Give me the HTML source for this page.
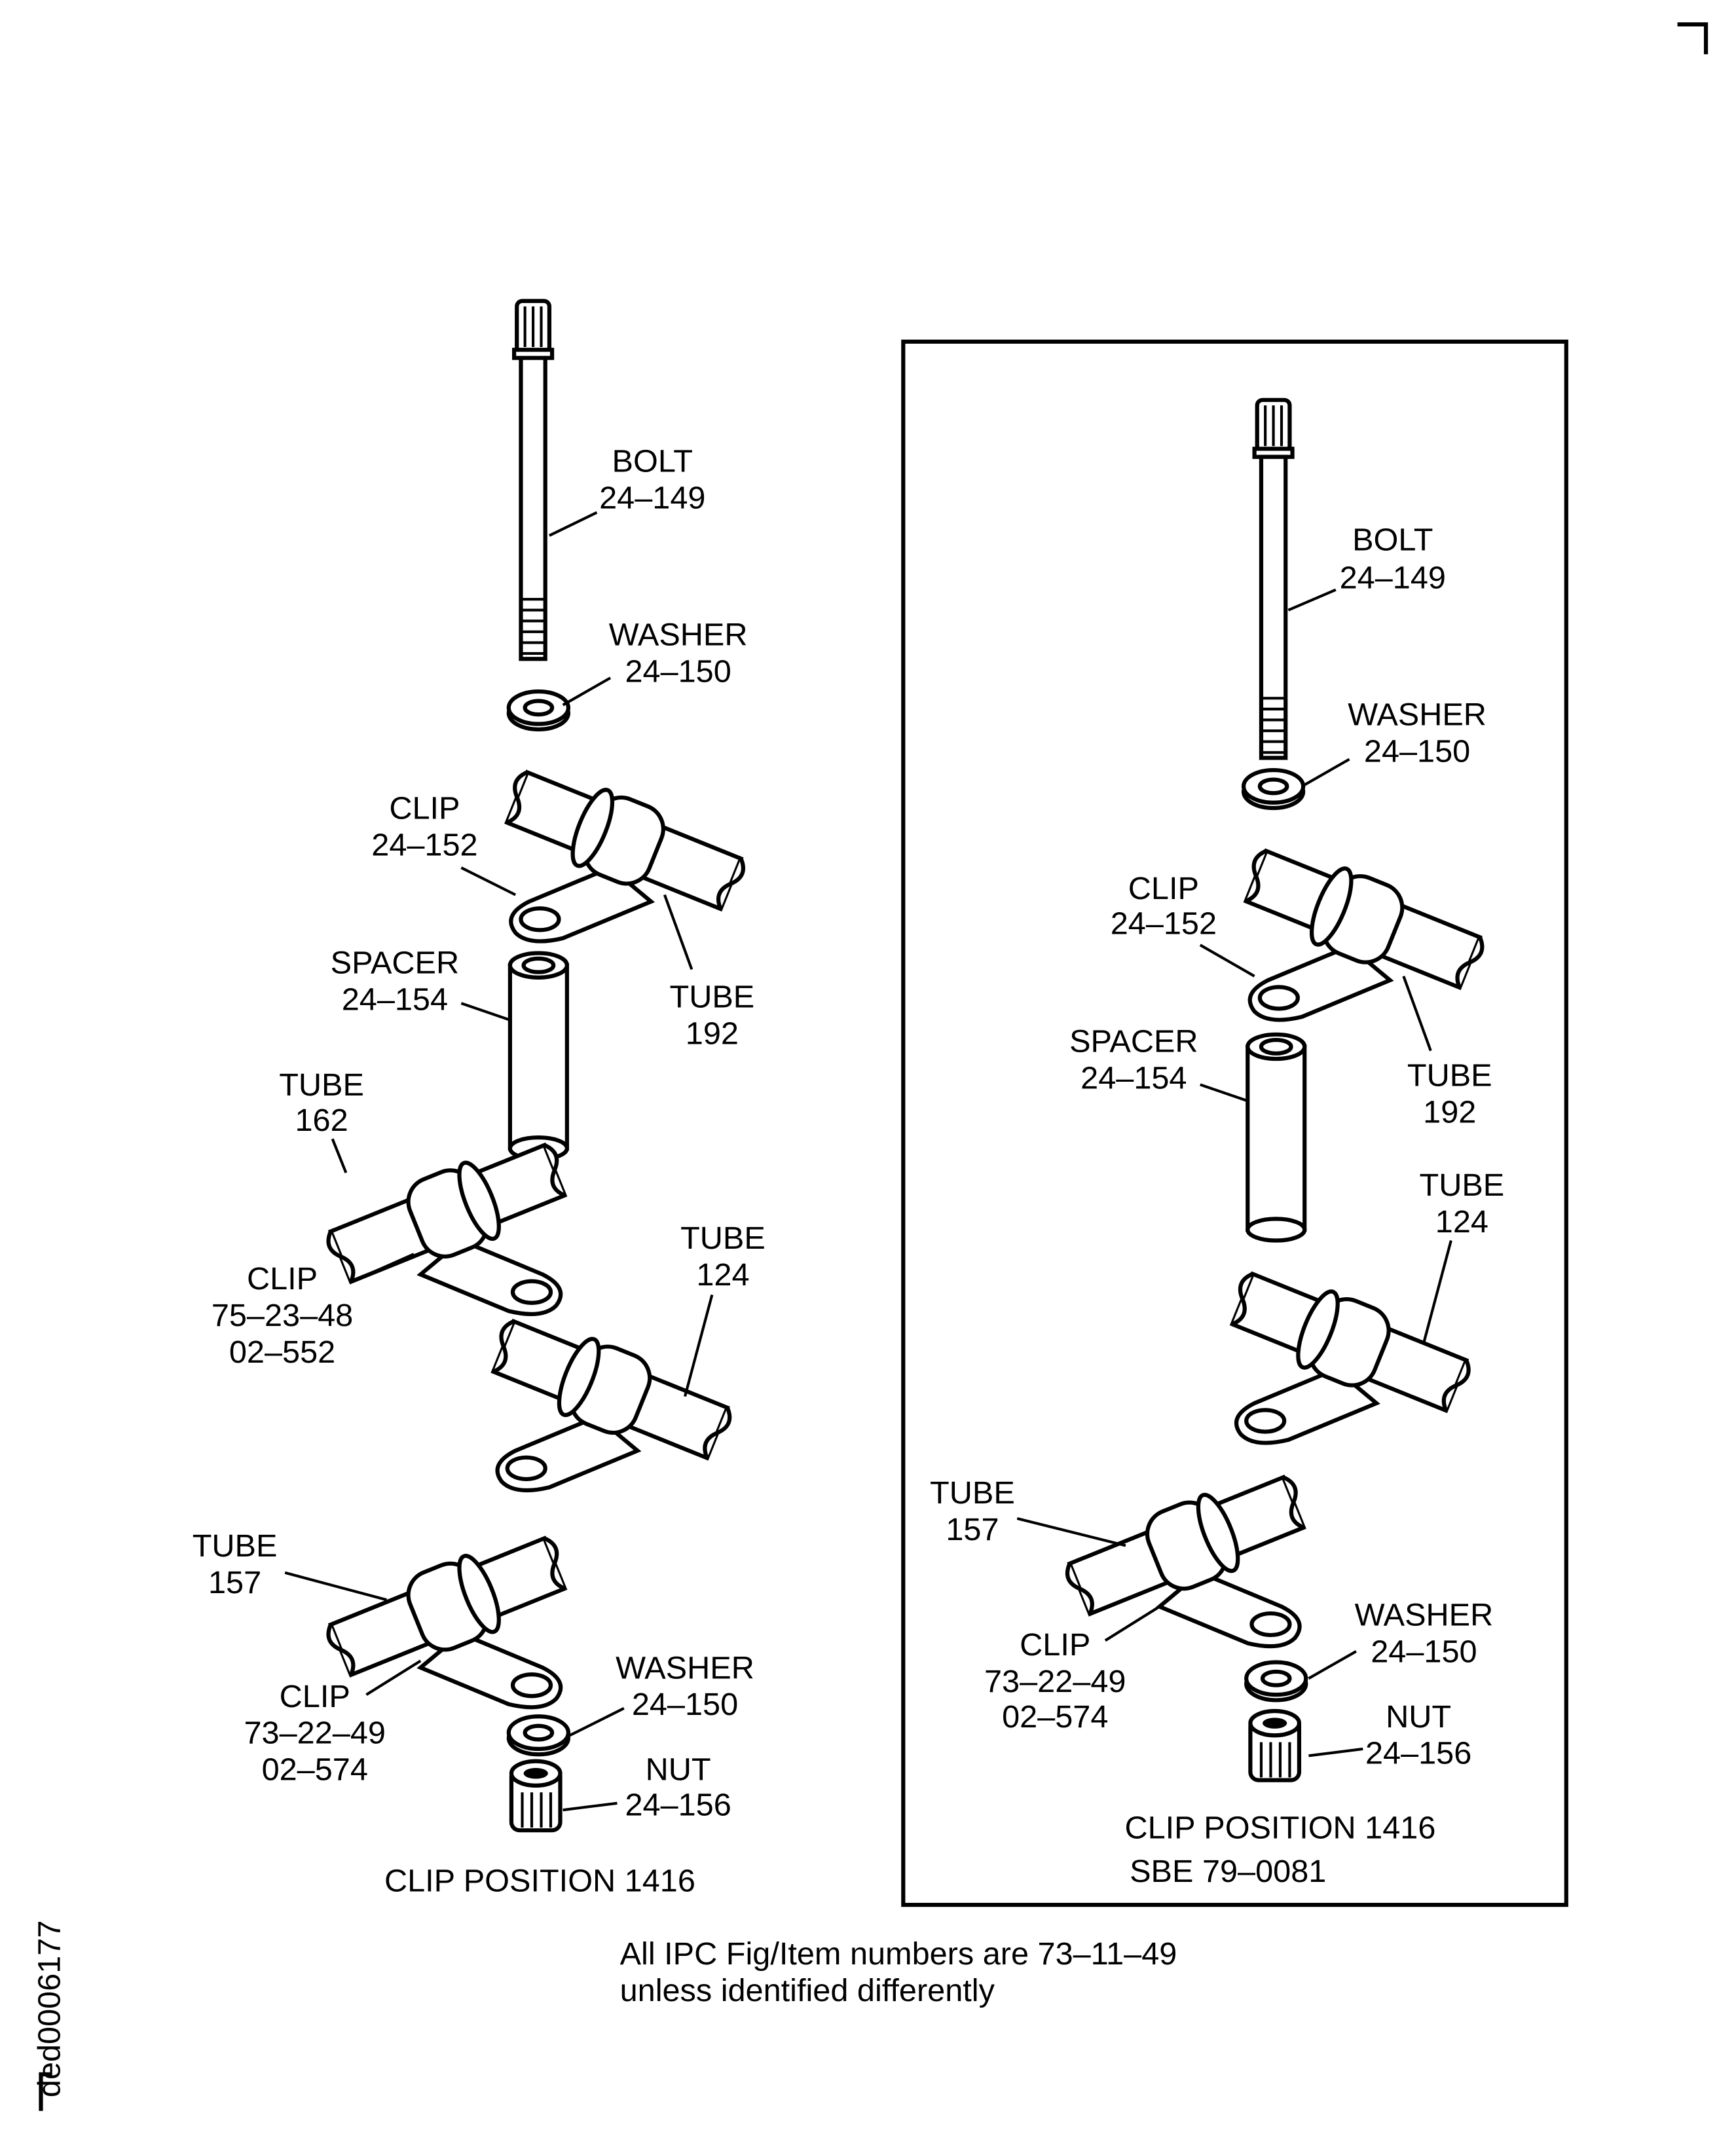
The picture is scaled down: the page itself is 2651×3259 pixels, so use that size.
<!DOCTYPE html>
<html><head><meta charset="utf-8"><style>
html,body{margin:0;padding:0;background:#fff}
svg{display:block}
text{font-family:"Liberation Sans",Arial,sans-serif;font-size:23.5px;fill:#000}
</style></head><body>
<svg width="2651" height="3259" viewBox="0 0 1280 1574" xmlns="http://www.w3.org/2000/svg">
<defs>
<g id="tubeclip">
 <path d="M-10,20 L-70,45 Q-90,55 -80,68 Q-70,78 -45,72 L20,45 Z" fill="#fff" stroke="#000" stroke-width="3"/>
 <ellipse cx="-62" cy="58" rx="14" ry="8" fill="#fff" stroke="#000" stroke-width="3"/>
 <g transform="rotate(22)">
  <rect x="-85" y="-20" width="170" height="40" fill="#fff" stroke="#000" stroke-width="3"/>
  <path d="M-85,-20 q-10,10 0,20 q10,10 0,20" fill="#fff" stroke="#000" stroke-width="3"/>
  <path d="M85,-20 q10,10 0,20 q-10,10 0,20" fill="#fff" stroke="#000" stroke-width="3"/>
  <rect x="-25" y="-30" width="50" height="60" rx="18" fill="#fff" stroke="#000" stroke-width="3"/>
  <ellipse cx="-25" cy="0" rx="10" ry="30" fill="#fff" stroke="#000" stroke-width="3"/>
 </g>
</g>
<g id="bolt">
 <rect x="-12" y="0" width="24" height="38" rx="4" fill="#fff" stroke="#000" stroke-width="3"/>
 <path d="M-6,4 v30 M0,4 v30 M6,4 v30" stroke="#000" stroke-width="2"/>
 <rect x="-14" y="36" width="28" height="6" fill="#fff" stroke="#000" stroke-width="3"/>
 <rect x="-9" y="42" width="18" height="222" fill="#fff" stroke="#000" stroke-width="3"/>
 <path d="M-9,220 h18 M-9,228 h18 M-9,236 h18 M-9,244 h18 M-9,252 h18 M-9,260 h18" stroke="#000" stroke-width="2"/>
</g>
<g id="washer">
 <ellipse cx="0" cy="4" rx="22" ry="12" fill="#fff" stroke="#000" stroke-width="3"/>
 <ellipse cx="0" cy="0" rx="22" ry="12" fill="#fff" stroke="#000" stroke-width="3"/>
 <ellipse cx="0" cy="0" rx="10" ry="5" fill="#fff" stroke="#000" stroke-width="3"/>
</g>
<g id="nut">
 <rect x="-18" y="-18" width="36" height="46" rx="6" fill="#fff" stroke="#000" stroke-width="3"/>
 <path d="M-10,0 v26 M-3,0 v26 M4,0 v26 M11,0 v26" stroke="#000" stroke-width="2"/>
 <ellipse cx="0" cy="-14" rx="18" ry="9" fill="#fff" stroke="#000" stroke-width="3"/>
 <ellipse cx="0" cy="-14" rx="9" ry="4" fill="#000"/>
</g>
<g id="spacer">
 <rect x="-21" y="0" width="42" height="135" fill="#fff" stroke="#000" stroke-width="3"/>
 <ellipse cx="0" cy="135" rx="21" ry="8" fill="#fff" stroke="#000" stroke-width="3"/>
 <ellipse cx="0" cy="0" rx="21" ry="9" fill="#fff" stroke="#000" stroke-width="3"/>
 <ellipse cx="0" cy="0" rx="11" ry="5" fill="#fff" stroke="#000" stroke-width="3"/>
</g>
</defs>

<path d="M1237,18 H1258 V40" fill="none" stroke="#000" stroke-width="3"/>
<path d="M38,1530 H30 V1557" fill="none" stroke="#000" stroke-width="3"/>
<text transform="translate(44,1547) rotate(-90)" font-size="21">ded0006177</text>

<use href="#bolt" x="393" y="222"/>
<use href="#washer" x="397" y="522"/>
<use href="#tubeclip" transform="translate(460,620)"/>
<use href="#spacer" x="397" y="712"/>
<use href="#tubeclip" transform="translate(330,895) scale(-1,1)"/>
<use href="#tubeclip" transform="translate(450,1025)"/>
<use href="#tubeclip" transform="translate(330,1185) scale(-1,1)"/>
<use href="#washer" x="397" y="1278"/>
<use href="#nut" x="395" y="1322"/>

<g stroke="#000" stroke-width="2" fill="none">
<path d="M440,378 L405,395"/><path d="M450,500 L415,520"/><path d="M340,640 L380,660"/>
<path d="M340,740 L375,752"/><path d="M510,715 L490,660"/><path d="M245,840 L255,865"/>
<path d="M260,945 L305,925"/><path d="M525,955 L505,1030"/><path d="M210,1160 L285,1180"/>
<path d="M270,1250 L310,1225"/><path d="M460,1260 L420,1280"/><path d="M455,1330 L415,1335"/>
</g>
<g text-anchor="middle">
<text x="481" y="348">BOLT</text><text x="481" y="375">24–149</text>
<text x="500" y="476">WASHER</text><text x="500" y="503">24–150</text>
<text x="313" y="604">CLIP</text><text x="313" y="631">24–152</text>
<text x="291" y="718">SPACER</text><text x="291" y="745">24–154</text>
<text x="525" y="743">TUBE</text><text x="525" y="770">192</text>
<text x="237" y="808">TUBE</text><text x="237" y="834">162</text>
<text x="208" y="951">CLIP</text><text x="208" y="978">75–23–48</text><text x="208" y="1005">02–552</text>
<text x="533" y="921">TUBE</text><text x="533" y="948">124</text>
<text x="173" y="1148">TUBE</text><text x="173" y="1175">157</text>
<text x="232" y="1259">CLIP</text><text x="232" y="1286">73–22–49</text><text x="232" y="1313">02–574</text>
<text x="505" y="1238">WASHER</text><text x="505" y="1265">24–150</text>
<text x="500" y="1313">NUT</text><text x="500" y="1339">24–156</text>
<text x="398" y="1395">CLIP POSITION 1416</text>
</g>

<rect x="666" y="252" width="489" height="1153" fill="none" stroke="#000" stroke-width="3"/>
<use href="#bolt" x="939" y="295"/>
<use href="#washer" x="939" y="580"/>
<use href="#tubeclip" transform="translate(1005,678)"/>
<use href="#spacer" x="941" y="772"/>
<use href="#tubeclip" transform="translate(995,990)"/>
<use href="#tubeclip" transform="translate(875,1140) scale(-1,1)"/>
<use href="#washer" x="941" y="1238"/>
<use href="#nut" x="940" y="1285"/>
<g stroke="#000" stroke-width="2" fill="none">
<path d="M985,435 L950,450"/><path d="M995,560 L960,580"/><path d="M885,697 L925,720"/>
<path d="M885,800 L920,812"/><path d="M1055,775 L1035,720"/><path d="M1070,915 L1050,990"/>
<path d="M750,1120 L830,1140"/><path d="M815,1210 L855,1185"/><path d="M1000,1218 L965,1238"/>
<path d="M1005,1290 L965,1295"/>
</g>
<g text-anchor="middle">
<text x="1027" y="406">BOLT</text><text x="1027" y="434">24–149</text>
<text x="1045" y="535">WASHER</text><text x="1045" y="562">24–150</text>
<text x="858" y="663">CLIP</text><text x="858" y="689">24–152</text>
<text x="836" y="776">SPACER</text><text x="836" y="803">24–154</text>
<text x="1069" y="801">TUBE</text><text x="1069" y="828">192</text>
<text x="1078" y="882">TUBE</text><text x="1078" y="909">124</text>
<text x="717" y="1109">TUBE</text><text x="717" y="1136">157</text>
<text x="778" y="1221">CLIP</text><text x="778" y="1248">73–22–49</text><text x="778" y="1274">02–574</text>
<text x="1050" y="1199">WASHER</text><text x="1050" y="1226">24–150</text>
<text x="1046" y="1274">NUT</text><text x="1046" y="1301">24–156</text>
<text x="944" y="1356">CLIP POSITION 1416</text>
</g>
<text x="833" y="1388">SBE 79–0081</text>

<text x="457" y="1449">All IPC Fig/Item numbers are 73–11–49</text>
<text x="457" y="1476">unless identified differently</text>
</svg>
</body></html>
